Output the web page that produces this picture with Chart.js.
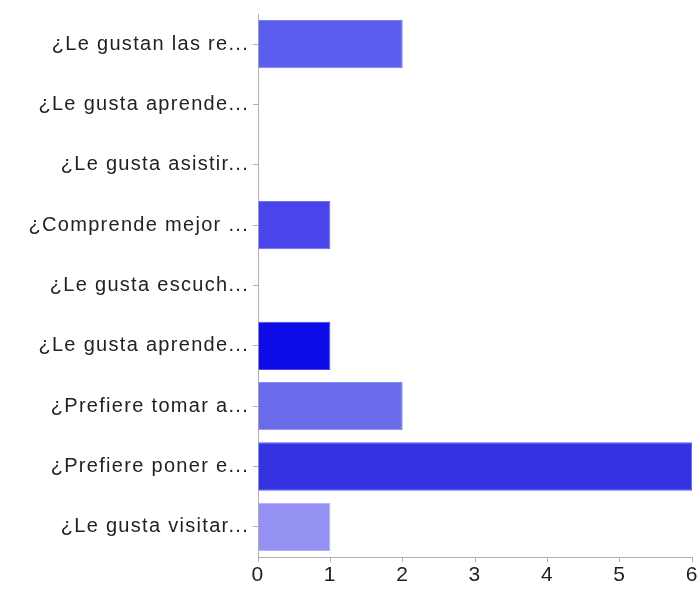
<!DOCTYPE html>
<html>
<head>
<meta charset="utf-8">
<script src="https://cdn.jsdelivr.net/npm/chart.js@4/dist/chart.umd.min.js"></script>
<style>
  html, body { margin: 0; padding: 0; background: #fff; }
  #wrap { width: 699px; height: 590px; }
</style>
</head>
<body>
<div id="wrap"><canvas id="barChart"></canvas></div>
<script>
const preguntas = [
    "¿Le gustan las re...",
    "¿Le gusta aprende...",
    "¿Le gusta asistir...",
    "¿Comprende mejor ...",
    "¿Le gusta escuch...",
    "¿Le gusta aprende...",
    "¿Prefiere tomar a...",
    "¿Prefiere poner e...",
    "¿Le gusta visitar..."
];
const respuestas = [2, 0, 0, 1, 0, 1, 2, 6, 1];
const colores = ["#5a5ded", "#5a5ded", "#5a5ded", "#4846ea", "#5a5ded", "#0d0ce6", "#6a6beb", "#3333e4", "#9592f3"];
const bordes = ["#7c7ff1", "#7c7ff1", "#7c7ff1", "#6e6cef", "#7c7ff1", "#4b4aee", "#8a8bf0", "#5c5ced", "#b0aef6"];
const ticksX = [0, 1, 2, 3, 4, 5, 6];

const axisGray = "#b0b0b0";
const family = "'Liberation Sans', Arial, sans-serif";

// looser letter spacing for the axis text
const spacing = {
    id: "spacing",
    beforeInit(chart) { chart.ctx.letterSpacing = "1.3px"; },
    beforeDraw(chart) { chart.ctx.letterSpacing = "1.3px"; }
};

new Chart(document.getElementById("barChart"), {
    type: "bar",
    data: {
        labels: preguntas,
        datasets: [{
            data: respuestas,
            backgroundColor: colores,
            borderColor: bordes,
            borderWidth: 1,
            barPercentage: 0.8,
            categoryPercentage: 1.0
        }]
    },
    plugins: [spacing],
    options: {
        indexAxis: "y",
        responsive: true,
        maintainAspectRatio: false,
        animation: false,
        layout: { padding: { top: 14, right: 6, left: 0, bottom: 0 } },
        plugins: { legend: { display: false }, tooltip: { enabled: false } },
        scales: {
            x: {
                min: ticksX[0],
                max: ticksX[ticksX.length - 1],
                afterBuildTicks: s => { s.ticks = ticksX.map(v => ({ value: v })); },
                afterFit: s => { s.height = 33; },
                grid: { drawOnChartArea: false, drawTicks: true, tickLength: 5, color: axisGray },
                border: { display: true, color: axisGray, width: 1 },
                ticks: { color: "#222", font: { family: family, size: 21 }, padding: 1 }
            },
            y: {
                afterFit: s => { s.width = 258; s.paddingTop = 0; s.paddingBottom = 0; },
                grid: { offset: false, drawOnChartArea: false, drawTicks: true, tickLength: 5, color: axisGray },
                border: { display: true, color: axisGray, width: 1 },
                ticks: { color: "#222", font: { family: family, size: 20 }, padding: 4 }
            }
        }
    }
});
</script>
</body>
</html>
